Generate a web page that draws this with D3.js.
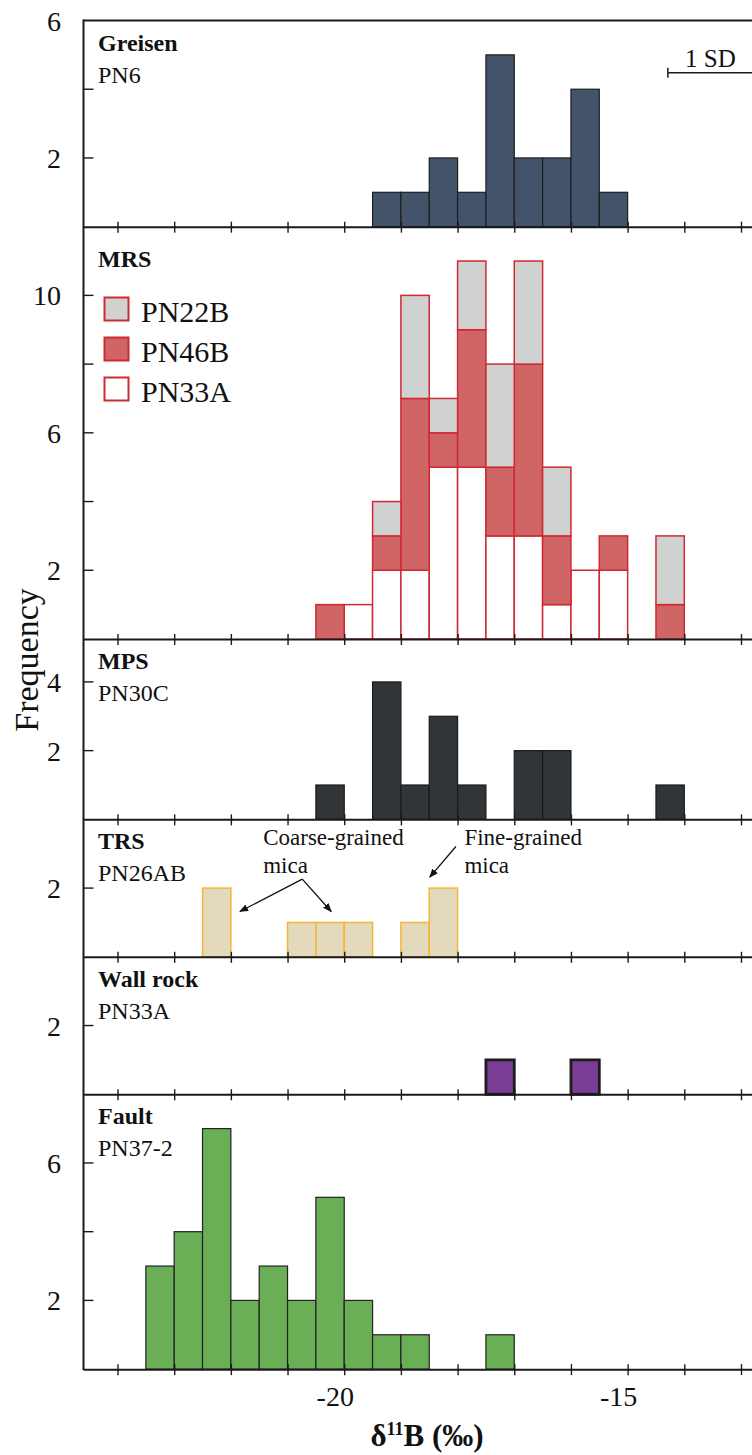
<!DOCTYPE html>
<html>
<head>
<meta charset="utf-8">
<script src="https://cdn.jsdelivr.net/npm/d3@7"></script>
<style>
  html, body { margin: 0; padding: 0; background: #fff; }
  svg { display: block; }
  text { font-family: "Liberation Serif", "Times New Roman", Times, serif; fill: #111; }
</style>
</head>
<body>
<svg id="chart" width="752" height="1455"></svg>
<script>
// ---------------- DATA ----------------
const binWidth = 0.5;               // ‰, width of each histogram bin

const greisenBins   = [-19.5, -19, -18.5, -18, -17.5, -17, -16.5, -16, -15.5];
const greisenCounts = [1, 1, 2, 1, 5, 2, 2, 4, 1];

const mrsBins = [-20.5, -20, -19.5, -19, -18.5, -18, -17.5, -17, -16.5, -16, -15.5, -14.5];
const pn33a   = [0, 1, 2, 2, 5, 5, 3, 3, 1, 2, 2, 0];
const pn46b   = [1, 0, 1, 5, 1, 4, 2, 5, 2, 0, 1, 1];
const pn22b   = [0, 0, 1, 3, 1, 2, 3, 3, 2, 0, 0, 2];

const mpsBins   = [-20.5, -19.5, -19, -18.5, -18, -17, -16.5, -14.5];
const mpsCounts = [1, 4, 1, 3, 1, 2, 2, 1];

const trsBins   = [-22.5, -21, -20.5, -20, -19, -18.5];
const trsCounts = [2, 1, 1, 1, 1, 2];

const wallBins   = [-17.5, -16];
const wallCounts = [1, 1];

const faultBins   = [-23.5, -23, -22.5, -22, -21.5, -21, -20.5, -20, -19.5, -19, -17.5];
const faultCounts = [3, 4, 7, 2, 3, 2, 5, 2, 1, 1, 1];

const panelTitles  = ["Greisen", "MRS", "MPS", "TRS", "Wall rock", "Fault"];
const panelSamples = ["PN6", "", "PN30C", "PN26AB", "PN33A", "PN37-2"];
const panelYMax    = [6, 12, 5.25, 4, 4, 8];
const panelYLabels = [[2, 6], [2, 6, 10], [2, 4], [2], [2], [2, 6]];
const legendLabels = ["PN22B", "PN46B", "PN33A"];

const xTickValues = [-24, -23, -22, -21, -20, -19, -18, -17, -16, -15, -14, -13];
const xTickLabels = [-20, -15];
const oneSD = 1.5;
const xDomain = [-24.6, -12.1];

// ---------------- LAYOUT ----------------
const svg = d3.select("#chart");
const left = 83.5, right = 792;
const top0 = 20.5;
const unit = 34.36;          // px per count
const axisColor = "#1a1a1a";

const x = d3.scaleLinear().domain(xDomain).range([left, right]);

const panels = [];
let yCursor = top0;
panelYMax.forEach((m, i) => {
  const h = m * unit;
  panels.push({ i, top: yCursor, bottom: yCursor + h,
                y: d3.scaleLinear().domain([0, m]).range([yCursor + h, yCursor]) });
  yCursor += h;
});

const styles = [
  { fill: "#43546a", stroke: "#1e1e1e", sw: 1.2 },
  null,
  { fill: "#323537", stroke: "#1a1a1a", sw: 1.2 },
  { fill: "#e3d9bc", stroke: "#f5b731", sw: 1.5 },
  { fill: "#7b3e96", stroke: "#1c1c1c", sw: 2.8 },
  { fill: "#6aaf55", stroke: "#222222", sw: 1.2 }
];
const mrsStyles = [
  { fill: "#ffffff", stroke: "#cf2a31" },   // PN33A
  { fill: "#d06566", stroke: "#cf2a31" },   // PN46B
  { fill: "#d0d1d1", stroke: "#cf2a31" }    // PN22B
];

function drawBars(p, bins, counts, st) {
  svg.append("g").selectAll("rect")
    .data(bins.map((b, k) => ({ b, c: counts[k] })).filter(d => d.c > 0))
    .join("rect")
    .attr("x", d => x(d.b))
    .attr("width", d => x(d.b + binWidth) - x(d.b))
    .attr("y", d => p.y(d.c))
    .attr("height", d => p.y(0) - p.y(d.c))
    .attr("fill", st.fill)
    .attr("stroke", st.stroke)
    .attr("stroke-width", st.sw);
}

drawBars(panels[0], greisenBins, greisenCounts, styles[0]);

// MRS stacked
{
  const p = panels[1];
  const rows = mrsBins.map((b, k) => ({ b, PN33A: pn33a[k], PN46B: pn46b[k], PN22B: pn22b[k] }));
  const stack = d3.stack().keys(["PN33A", "PN46B", "PN22B"])(rows);
  stack.forEach((layer, li) => {
    svg.append("g").selectAll("rect")
      .data(layer.filter(d => d[1] - d[0] > 0))
      .join("rect")
      .attr("x", d => x(d.data.b))
      .attr("width", d => x(d.data.b + binWidth) - x(d.data.b))
      .attr("y", d => p.y(d[1]))
      .attr("height", d => p.y(d[0]) - p.y(d[1]))
      .attr("fill", mrsStyles[li].fill)
      .attr("stroke", mrsStyles[li].stroke)
      .attr("stroke-width", 1.5);
  });
  const lg = svg.append("g");
  const legendFills = [mrsStyles[2].fill, mrsStyles[1].fill, mrsStyles[0].fill];
  legendLabels.forEach((lab, k) => {
    const yy = 297.5 + k * 40;
    lg.append("rect").attr("x", 104.5).attr("y", yy).attr("width", 24).attr("height", 23)
      .attr("fill", legendFills[k]).attr("stroke", "#cf2a31").attr("stroke-width", 2);
    lg.append("text").attr("x", 141).attr("y", yy + 24).attr("font-size", 30).text(lab);
  });
}

drawBars(panels[2], mpsBins, mpsCounts, styles[2]);
drawBars(panels[3], trsBins, trsCounts, styles[3]);
drawBars(panels[4], wallBins, wallCounts, styles[4]);
drawBars(panels[5], faultBins, faultCounts, styles[5]);

// ---------------- AXES / FRAMES ----------------
svg.append("line").attr("x1", left).attr("x2", right).attr("y1", top0).attr("y2", top0)
  .attr("stroke", axisColor).attr("stroke-width", 2);

panels.forEach(p => {
  const g = svg.append("g").attr("transform", `translate(0,${p.bottom})`);
  g.call(d3.axisBottom(x).tickValues(xTickValues).tickSize(6).tickSizeOuter(0).tickFormat(""));
  g.select(".domain").attr("stroke", axisColor).attr("stroke-width", 2);
  g.selectAll(".tick line").attr("y1", -5).attr("stroke", axisColor).attr("stroke-width", 1.4);

  const m = panelYMax[p.i];
  const minor = d3.range(2, m, 2);
  svg.append("g").selectAll("line").data(minor).join("line")
    .attr("x1", left).attr("x2", left + 10)
    .attr("y1", d => p.y(d)).attr("y2", d => p.y(d))
    .attr("stroke", axisColor).attr("stroke-width", 1.4);
  svg.append("g").selectAll("text").data(panelYLabels[p.i]).join("text")
    .attr("x", 61).attr("y", d => p.y(d)).attr("dy", "0.36em")
    .attr("text-anchor", "end").attr("font-size", 28).text(d => d);

  const isMRS = p.i === 1;
  svg.append("text").attr("x", 98).attr("y", p.top + (isMRS ? 40.5 : 30))
    .attr("font-size", 24).attr("font-weight", "bold").text(panelTitles[p.i]);
  if (panelSamples[p.i]) {
    svg.append("text").attr("x", 98).attr("y", p.top + 62)
      .attr("font-size", 24).text(panelSamples[p.i]);
  }
});

svg.append("line").attr("x1", left).attr("x2", left)
  .attr("y1", top0 - 1).attr("y2", panels[5].bottom + 1)
  .attr("stroke", axisColor).attr("stroke-width", 2);

svg.append("g").selectAll("text").data(xTickLabels).join("text")
  .attr("x", d => x(d) - 9).attr("y", 1406)
  .attr("text-anchor", "middle").attr("font-size", 28).text(d => d);

{
  const t = svg.append("text").attr("x", 427).attr("y", 1446)
    .attr("text-anchor", "middle").attr("font-size", 31).attr("font-weight", "bold");
  t.append("tspan").text("δ");
  t.append("tspan").attr("font-size", 18).attr("dy", -11).text("11");
  t.append("tspan").attr("dy", 11).text("B (‰)");
}

svg.append("text").attr("transform", "translate(38,660) rotate(-90)")
  .attr("text-anchor", "middle").attr("font-size", 34).text("Frequency");

// 1 SD bar
{
  const p = panels[0];
  const x0 = -14.29;
  const yy = p.y(4.48);
  svg.append("line").attr("x1", x(x0)).attr("x2", x(x0 + oneSD)).attr("y1", yy).attr("y2", yy)
    .attr("stroke", axisColor).attr("stroke-width", 1.5);
  svg.append("line").attr("x1", x(x0)).attr("x2", x(x0)).attr("y1", yy - 5).attr("y2", yy + 5)
    .attr("stroke", axisColor).attr("stroke-width", 1.5);
  svg.append("text").attr("x", x(x0 + oneSD / 2)).attr("y", p.y(4.64))
    .attr("text-anchor", "middle").attr("font-size", 25).text("1 SD");
}

// TRS annotations
{
  const p = panels[3];
  const defs = svg.append("defs");
  defs.append("marker").attr("id", "arrow").attr("viewBox", "0 0 10 10")
    .attr("refX", 9).attr("refY", 5).attr("markerWidth", 9).attr("markerHeight", 9)
    .attr("markerUnits", "userSpaceOnUse").attr("orient", "auto")
    .append("path").attr("d", "M0,1 L10,5 L0,9 z").attr("fill", "#111");

  const notes = [
    { x: -21.43, lines: ["Coarse-grained", "mica"] },
    { x: -17.88, lines: ["Fine-grained", "mica"] }
  ];
  notes.forEach(n => {
    n.lines.forEach((l, k) => {
      svg.append("text").attr("x", x(n.x)).attr("y", p.y(k === 0 ? 3.26 : 2.45))
        .attr("font-size", 23).text(l);
    });
  });
  const arrows = [
    { from: [-20.74, 2.26], to: [-21.84, 1.32] },
    { from: [-20.74, 2.26], to: [-20.23, 1.32] },
    { from: [-18.03, 3.21], to: [-18.49, 2.32] }
  ];
  arrows.forEach(a => {
    svg.append("line")
      .attr("x1", x(a.from[0])).attr("y1", p.y(a.from[1]))
      .attr("x2", x(a.to[0])).attr("y2", p.y(a.to[1]))
      .attr("stroke", "#111").attr("stroke-width", 1.3)
      .attr("marker-end", "url(#arrow)");
  });
}
</script>
</body>
</html>
